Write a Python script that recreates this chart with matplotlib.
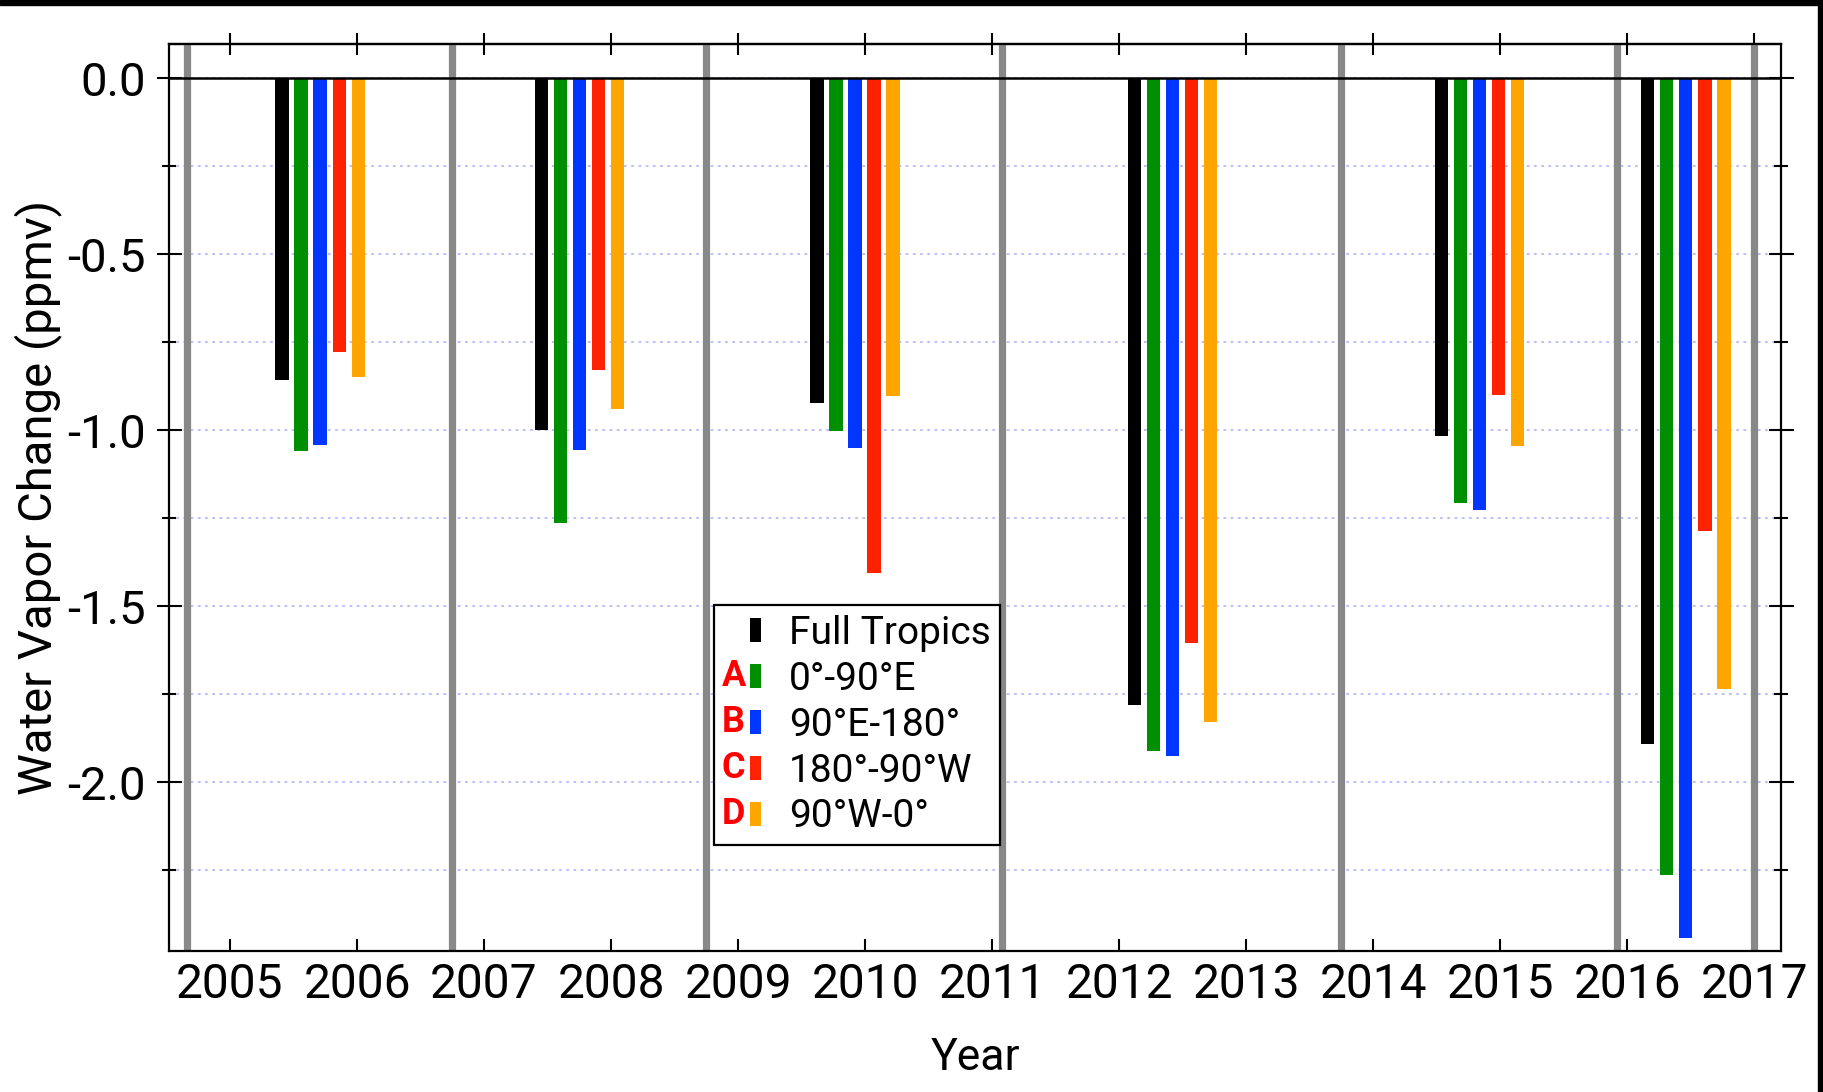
#!/usr/bin/env python

import matplotlib
matplotlib.use('Agg')
import matplotlib.pyplot as plt
import numpy as np
from matplotlib.patches import Rectangle
from matplotlib.text import Text
from matplotlib.legend_handler import HandlerBase
from matplotlib.ticker import MultipleLocator

plt.rcParams['font.family'] = ['Roboto', 'DejaVu Sans']
plt.rcParams['axes.unicode_minus'] = False

# centre (decimal year) of each group of bars
event_years = [2005.71, 2007.75, 2009.92, 2012.42, 2014.835, 2016.46]

# water vapour change (ppmv) per longitude sector
full_tropics = [-0.858, -0.999, -0.924, -1.782, -1.016, -1.893]
lon_0_90e = [-1.060, -1.264, -1.003, -1.912, -1.207, -2.265]
lon_90e_180 = [-1.043, -1.056, -1.051, -1.925, -1.226, -2.442]
lon_180_90w = [-0.777, -0.829, -1.406, -1.605, -0.899, -1.288]
lon_90w_0 = [-0.848, -0.939, -0.902, -1.830, -1.046, -1.735]

regions = ['Full Tropics', '0°-90°E', '90°E-180°', '180°-90°W', '90°W-0°']
region_tags = ['', 'A', 'B', 'C', 'D']
colors = ['#000000', '#008f00', '#0036ff', '#ff2200', '#ffa500']

# grey separators between the events
divider_years = [2004.66, 2006.75, 2008.744, 2011.08, 2013.747, 2015.92, 2017.0]

year_ticks = list(range(2005, 2018))
y_ticks = [0.0, -0.5, -1.0, -1.5, -2.0]
y_labels = ['0.0', '-0.5', '-1.0', '-1.5', '-2.0']


class TaggedPatchHandler(HandlerBase):
    '''Legend key: red sector letter followed by a narrow colour block.'''
    def __init__(self, tag):
        super().__init__()
        self.tag = tag

    def create_artists(self, legend, orig_handle, xdescent, ydescent,
                       width, height, fontsize, trans):
        bw = 0.27 * fontsize
        bh = 0.62 * fontsize
        yc = height / 2 - ydescent
        block = Rectangle((width - xdescent - bw, yc - bh / 2), bw, bh,
                          facecolor=orig_handle.get_facecolor(),
                          edgecolor='none', transform=trans)
        label = Text(-xdescent - 0.05 * fontsize, yc, self.tag,
                     color='#ff0000', fontsize=26, fontweight='bold',
                     ha='left', va='center', transform=trans)
        return [block, label]


fig = plt.figure(figsize=(18.23, 10.92), dpi=100)
ax = fig.add_axes([0.0927, 0.1291, 0.8843, 0.8306])

series = [full_tropics, lon_0_90e, lon_90e_180, lon_180_90w, lon_90w_0]
offsets = (np.arange(len(series)) - 2) * 0.15
for vals, off, c in zip(series, offsets, colors):
    ax.bar(np.array(event_years) + off, vals, width=0.105, color=c,
           zorder=3)

for yr in divider_years:
    ax.axvline(yr, color='#888888', lw=5.2, zorder=2)
ax.axhline(0, color='black', lw=1.8, zorder=4)

ax.set_xlim(2004.52, 2017.21)
ax.set_ylim(-2.48, 0.097)

ax.set_xticks(year_ticks)
ax.set_xticklabels([str(y) for y in year_ticks])
ax.set_yticks(y_ticks)
ax.set_yticklabels(y_labels)
ax.yaxis.set_minor_locator(MultipleLocator(0.25))

ax.grid(axis='y', which='both', color='#b8b8ff',
        linestyle=(0, (1.5, 2.5)), linewidth=1.3)
ax.set_axisbelow(True)

ax.tick_params(axis='y', which='major', direction='inout', length=18,
               width=1.5, left=True, right=True, labelsize=34, pad=8)
ax.tick_params(axis='y', which='minor', direction='inout', length=10,
               width=1.5, left=True, right=True)
ax.tick_params(axis='x', which='major', direction='in', length=8.5,
               width=1.5, bottom=True, top=False, labelsize=34.5, pad=8)

top = ax.secondary_xaxis('top')
top.set_xticks(year_ticks)
top.tick_params(direction='inout', length=16.5, width=1.5, labeltop=False)
top.spines['top'].set_linewidth(1.6)

for s in ax.spines.values():
    s.set_linewidth(1.6)

ax.set_ylabel('Water Vapor Change (ppmv)', fontsize=34)
ax.yaxis.set_label_coords(-0.0664, 0.5)
ax.set_xlabel('Year', fontsize=32)
ax.xaxis.set_label_coords(0.5, -0.095)

proxies = [Rectangle((0, 0), 1, 1, facecolor=c) for c in colors]
handler_map = {p: TaggedPatchHandler(t) for p, t in zip(proxies, region_tags)}
leg = ax.legend(proxies, regions, handler_map=handler_map, loc='upper left',
                bbox_to_anchor=(0.3381, 0.3815), borderaxespad=0,
                fontsize=28, handlelength=0.95, handleheight=0.7,
                handletextpad=0.72, labelspacing=0.23, borderpad=0.25,
                fancybox=False, framealpha=1, edgecolor='black')
leg.get_frame().set_linewidth(1.6)
leg.set_zorder(6)

# dark edges along the top and right of the image
fig.add_artist(Rectangle((0, 1 - 5 / 1092), 1, 5 / 1092,
                         transform=fig.transFigure, color='black'))
fig.add_artist(Rectangle((1 - 5 / 1823, 0), 5 / 1823, 1,
                         transform=fig.transFigure, color='black'))

fig.savefig('out.png', dpi=100)
